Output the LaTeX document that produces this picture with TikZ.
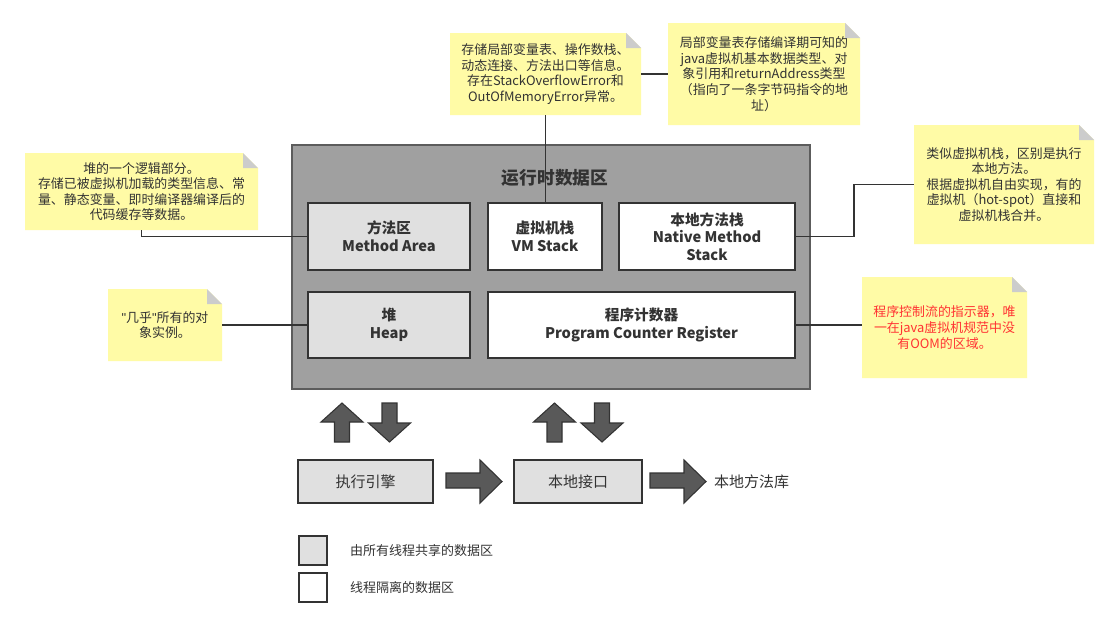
\documentclass[tikz,border=0pt]{standalone}
\usepackage{fontspec}
\setmainfont{Noto Sans CJK SC}
\newfontfamily\quotefont{Liberation Sans}
\usetikzlibrary{fit}
\definecolor{bigfill}{HTML}{A0A0A0}
\definecolor{shared}{HTML}{E0E0E0}
\definecolor{linec}{HTML}{333333}
\definecolor{notey}{HTML}{FFFBA6}
\definecolor{foldg}{HTML}{CCCCCC}
\definecolor{txt}{HTML}{333333}
\definecolor{redtxt}{HTML}{FF3333}
\definecolor{arrowf}{HTML}{595959}
\begin{document}
\begin{tikzpicture}[x=0.75pt,y=-0.75pt,
  every node/.style={inner sep=0pt, outer sep=0pt},
  area/.style={draw=linec, line width=1.1pt},
  areatext/.style={text=txt, align=center, font=\fontsize{11}{13.3}\selectfont\bfseries},
  bigbox/.style={draw=linec!80, line width=1.1pt, fill=bigfill},
  conn/.style={draw=linec, line width=1.1pt},
  notebox/.style={
    path picture={
      \fill[notey] (path picture bounding box.south west) -- (path picture bounding box.north west)
        -- ([xshift=-11.25pt]path picture bounding box.north east)
        -- ([yshift=-11.25pt]path picture bounding box.north east)
        -- (path picture bounding box.south east) -- cycle;
      \fill[foldg] ([xshift=-11.25pt]path picture bounding box.north east)
        -- ([xshift=-11.25pt,yshift=-11.25pt]path picture bounding box.north east)
        -- ([yshift=-11.25pt]path picture bounding box.north east) -- cycle;}},
  notetext/.style={align=center, text=txt, font=\fontsize{9.7}{11.7}\selectfont},
  blockarrow/.style={fill=arrowf, draw=linec, line width=0.8pt, line join=miter},
  plain/.style={text=txt, font=\fontsize{11.25}{13}\selectfont}
]
\useasboundingbox[fill=white] (0,0) rectangle (1116,636);

% big runtime data area
\node[bigbox, fit={(292,145) (810,389)}] (rt) {};
\node[text=txt, font=\fontsize{13.3}{15}\selectfont\bfseries] (title) at (555,178) {运行时数据区};

% inner areas
\node[area, fill=shared, fit={(308,203) (470,270)}] (ma) {};
\node[area, fill=white, fit={(488,203) (602,270)}] (vm) {};
\node[area, fill=white, fit={(619,203) (795,270)}] (nms) {};
\node[area, fill=shared, fit={(308,292) (470,358)}] (heap) {};
\node[area, fill=white, fit={(488,292) (795,358)}] (pc) {};
\node[areatext] (mat) at (ma.center) {方法区\\Method Area};
\node[areatext] (vmt) at (vm.center) {虚拟机栈\\VM Stack};
\node[areatext] (nmst) at (nms.center) {本地方法栈\\Native Method\\Stack};
\node[areatext] (heapt) at (heap.center) {堆\\Heap};
\node[areatext] (pct) at (pc.center) {程序计数器\\Program Counter Register};

% notes
\node[notebox, fit={(450,33) (641,115)}] (n1) {};
\node[notebox, fit={(668,23) (860,125)}] (n2) {};
\node[notebox, fit={(25,153) (258,230)}] (ln1) {};
\node[notebox, fit={(108,289) (222,361)}] (ln2) {};
\node[notebox, fit={(914,125) (1094,244)}] (rn1) {};
\node[notebox, fit={(862,277) (1027,378)}] (rn2) {};
\node[notetext] (n1t) at (n1.center) {存储局部变量表、操作数栈、\\动态连接、方法出口等信息。\\存在StackOverflowError和\\OutOfMemoryError异常。};
\node[notetext] (n2t) at (n2.center) {局部变量表存储编译期可知的\\java虚拟机基本数据类型、对\\象引用和returnAddress类型\\（指向了一条字节码指令的地\\址）};
\node[notetext] (ln1t) at (ln1.center) {堆的一个逻辑部分。\\存储已被虚拟机加载的类型信息、常\\量、静态变量、即时编译器编译后的\\代码缓存等数据。};
\node[notetext] (ln2t) at (ln2.center) {{\quotefont\symbol{"22}}几乎{\quotefont\symbol{"22}}所有的对\\象实例。};
\node[notetext] (rn1t) at (rn1.center) {类似虚拟机栈，区别是执行\\本地方法。\\根据虚拟机自由实现，有的\\虚拟机（hot-spot）直接和\\虚拟机栈合并。};
\node[notetext, text=redtxt] (rn2t) at (rn2.center) {程序控制流的指示器，唯\\一在java虚拟机规范中没\\有OOM的区域。};

% connectors
\draw[conn] (n1.south) -- (n1.south |- vm.north);
\draw[conn] (n1.east) -- (n2.west);
\draw[conn] (ln1.south) |- (ma.west);
\draw[conn] (ln2.east |- heap.west) -- (heap.west);
\draw[conn] (nms.east) -- ++(59,0) |- (rn1.west);
\draw[conn] (pc.east) -- (pc.east -| rn2.west);

% up/down block arrows
\foreach \cx/\kind in {342/u, 389.5/d, 554.5/u, 602/d}{
  \if\kind u
    \filldraw[blockarrow] (\cx,403) -- (\cx+21,422) -- (\cx+7.5,422) -- (\cx+7.5,442) -- (\cx-7.5,442) -- (\cx-7.5,422) -- (\cx-21,422) -- cycle;
  \else
    \filldraw[blockarrow] (\cx-7.5,403) -- (\cx+7.5,403) -- (\cx+7.5,423) -- (\cx+21,423) -- (\cx,442) -- (\cx-21,423) -- (\cx-7.5,423) -- cycle;
  \fi
}

% bottom row
\node[draw=linec, line width=1.1pt, fill=shared, fit={(298,460) (433,503)}] (ee) {};
\node[draw=linec, line width=1.1pt, fill=shared, fit={(514,460) (642,503)}] (ni) {};
\node[plain] (eet) at (ee.center) {执行引擎};
\node[plain] (nit) at (ni.center) {本地接口};
\node[plain, anchor=west] (lib) at (714,481.5) {本地方法库};
\foreach \x in {446,650}{
  \filldraw[blockarrow] (\x,473) -- (\x+34,473) -- (\x+34,460) -- (\x+56,481.5) -- (\x+34,503) -- (\x+34,488) -- (\x,488) -- cycle;
}

% legend
\node[draw=linec, line width=1.1pt, fill=shared, fit={(299,536) (327,565)}] (lg1) {};
\node[draw=linec, line width=1.1pt, fill=white, fit={(299,573) (327,602)}] (lg2) {};
\node[text=txt, font=\fontsize{9.75}{11}\selectfont, anchor=west] (lt1) at (350,551) {由所有线程共享的数据区};
\node[text=txt, font=\fontsize{9.75}{11}\selectfont, anchor=west] (lt2) at (350,588) {线程隔离的数据区};
\end{tikzpicture}
\end{document}
